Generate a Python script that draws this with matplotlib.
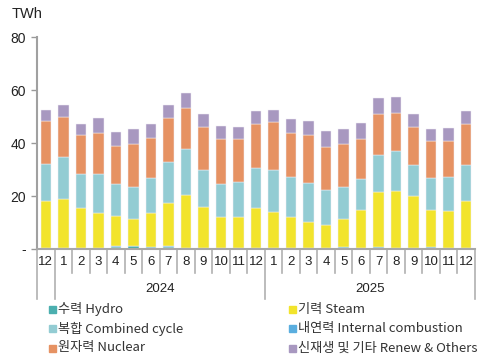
import numpy as np
import matplotlib
matplotlib.use('Agg')
import matplotlib.pyplot as plt
from matplotlib.patches import Rectangle

plt.rcParams['font.family'] = ['Liberation Sans', 'Noto Sans CJK KR', 'DejaVu Sans']

# months: Dec 2023, Jan-Dec 2024, Jan-Dec 2025
months = ['12', '1', '2', '3', '4', '5', '6', '7', '8', '9', '10', '11', '12',
          '1', '2', '3', '4', '5', '6', '7', '8', '9', '10', '11', '12']
years = ['2024', '2025']

# TWh
hydro = [0.3, 0.3, 0.3, 0.5, 0.9, 1.0, 0.6, 0.9, 0.5, 0.4, 0.4, 0.3, 0.3,
         0.3, 0.3, 0.4, 0.5, 0.6, 0.5, 0.6, 0.5, 0.5, 0.8, 0.5, 0.3]
internal = [0.05] * 25
steam = [17.9, 18.6, 15.2, 13.1, 11.6, 10.2, 13.0, 16.5, 19.9, 15.4, 11.8, 11.9, 15.3,
         13.8, 11.8, 9.8, 8.6, 10.7, 14.3, 20.7, 21.4, 19.5, 13.8, 13.8, 17.8]
combined = [14.0, 15.8, 12.9, 14.7, 11.8, 12.2, 13.1, 15.4, 17.1, 14.1, 12.2, 13.1, 15.1,
            15.7, 15.2, 14.7, 13.2, 12.1, 11.6, 14.2, 15.1, 11.7, 12.1, 13.0, 13.5]
nuclear = [16.2, 15.0, 14.7, 15.6, 14.7, 16.0, 15.1, 16.4, 15.5, 15.9, 17.1, 16.1, 16.6,
           17.9, 16.3, 18.0, 16.1, 16.0, 15.1, 15.3, 14.2, 14.2, 13.9, 13.3, 15.6]
renew = [3.9, 4.6, 4.1, 5.4, 5.0, 5.9, 5.5, 5.1, 5.7, 5.0, 4.7, 4.4, 4.8,
         4.6, 5.5, 5.5, 6.0, 5.9, 6.0, 6.3, 6.0, 4.9, 4.6, 5.1, 4.7]

series = [
    (hydro, '#4BAFAF', '수력 Hydro'),
    (internal, '#5AAEDF', '내연력 Internal combustion'),
    (steam, '#F2E42C', '기력 Steam'),
    (combined, '#93CCD3', '복합 Combined cycle'),
    (nuclear, '#E69263', '원자력 Nuclear'),
    (renew, '#A898C0', '신재생 및 기타 Renew & Others'),
]

fig = plt.figure(figsize=(4.88, 3.62), dpi=100)
ax = fig.add_axes([37 / 488, 113 / 362, 438 / 488, 212 / 362])

x = np.arange(len(months))
bottom = np.zeros(len(months))
for vals, col, lab in series:
    ax.bar(x, vals, 0.6, bottom=bottom, color=col, edgecolor='#f0eef4', linewidth=0.35)
    bottom += np.array(vals)

ax.set_xlim(-0.5, len(months) - 0.5)
ax.set_ylim(0, 80)
ax.set_yticks([0, 20, 40, 60, 80])
ax.set_yticklabels(['-', '20', '40', '60', '80'], fontsize=10, color='#222222')
ax.tick_params(axis='y', length=4, width=1, color='#999999', pad=4)
ax.set_xticks([])
for s in ['top', 'right']:
    ax.spines[s].set_visible(False)
ax.spines['left'].set_color('#a0a0a0')
ax.spines['left'].set_linewidth(1.5)
ax.spines['bottom'].set_color('#a8a8a8')
ax.spines['bottom'].set_linewidth(1.5)

tr = ax.get_xaxis_transform()
for i in range(len(months) + 1):
    xb = i - 0.5
    low = -0.235 if xb in (-0.5, 0.5, 12.5, len(months) - 0.5) else -0.115
    ax.plot([xb, xb], [0, low], transform=tr, color='#b0b0b0', lw=1.2, clip_on=False)
for i, m in enumerate(months):
    ax.text(i, -0.062, m, transform=tr, ha='center', va='center', fontsize=9.5, color='#222222')
ax.text(6.5, -0.19, years[0], transform=tr, ha='center', va='center', fontsize=9.5, color='#222222')
ax.text(18.5, -0.19, years[1], transform=tr, ha='center', va='center', fontsize=9.5, color='#222222')

fig.text(12 / 488, 1 - 14 / 362, 'TWh', ha='left', va='center', fontsize=10.5, color='#222222')

# legend, two columns laid out by hand
order = [0, 2, 3, 1, 4, 5]
for k, idx in enumerate(order):
    vals, col, lab = series[idx]
    row, colm = k // 2, k % 2
    mx = 49 if colm == 0 else 289
    my = 309 + row * 19.5
    fig.patches.append(Rectangle((mx / 488, 1 - (my + 3.5) / 362), 7 / 488, 7 / 362,
                                 transform=fig.transFigure, color=col))
    fig.text((mx + 9) / 488, 1 - my / 362, lab, ha='left', va='center',
             fontsize=9.5, color='#333333', family=['Noto Sans CJK KR', 'DejaVu Sans'])

fig.savefig('out.png', dpi=100)
